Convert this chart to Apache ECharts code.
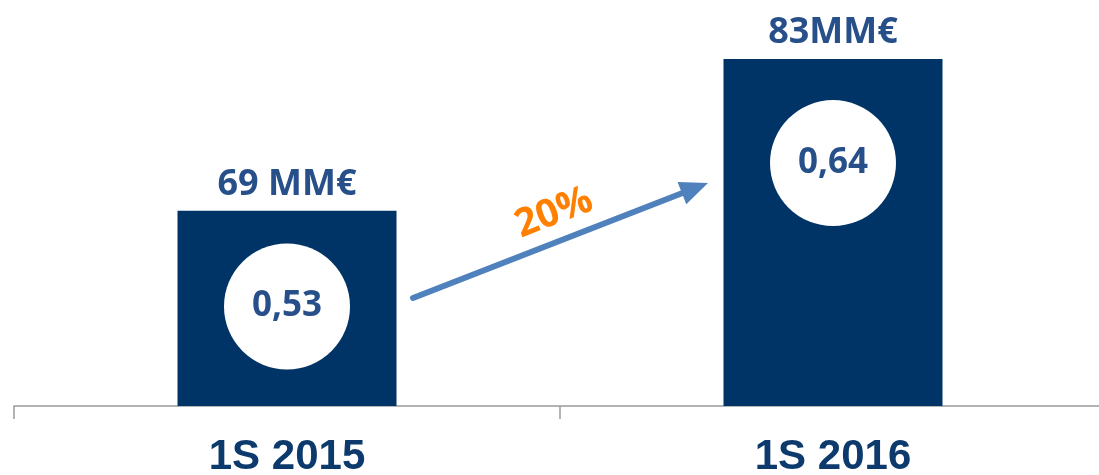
<!DOCTYPE html>
<html>
<head>
<meta charset="utf-8">
<script src="https://cdn.jsdelivr.net/npm/echarts@6/dist/echarts.min.js"></script>
<style>
html,body{margin:0;padding:0;background:#fff;}
#c{width:1099px;height:475px;}
</style>
</head>
<body>
<div id="c"></div>
<script>
// ---- data ----
const categories = ['1S 2015', '1S 2016'];
const revenue = [69, 83];
const revenueLabels = ['69 MM€', '83MM€'];
const ratioValues = ['0,53', '0,64'];
const growthLabel = '20%';

// ---- layout ----
const yMin = 51, yMax = 85;
const circleFrac = [0.51, 0.70]; // circle centre as fraction of bar height

const chart = echarts.init(document.getElementById('c'), null, {renderer: 'canvas'});
const circleData = categories.map((c, i) => ({
  value: [c, yMin + (revenue[i] - yMin) * circleFrac[i]],
  label: {formatter: ratioValues[i]}
}));

chart.setOption({
  animation: false,
  backgroundColor: '#ffffff',
  grid: {left: 14, width: 1092, top: 37.3, height: 368.7, containLabel: false, outerBoundsMode: 'none'},
  xAxis: {
    type: 'category',
    data: categories,
    boundaryGap: true,
    axisLine: {lineStyle: {color: '#9a9a9a', width: 1.5}},
    axisTick: {show: true, length: 13, alignWithLabel: false, lineStyle: {color: '#9a9a9a', width: 1.5}},
    axisLabel: {
      margin: 30,
      fontFamily: 'Liberation Sans, Arial, sans-serif',
      fontWeight: 'bold',
      fontSize: 42,
      color: '#0d3a6c'
    }
  },
  yAxis: {
    type: 'value', min: yMin, max: yMax, show: false,
    splitLine: {show: false}
  },
  series: [
    {
      type: 'bar',
      data: revenue,
      barWidth: 219,
      itemStyle: {color: '#003366'},
      label: {
        show: true,
        position: 'top',
        distance: 8,
        formatter: p => revenueLabels[p.dataIndex],
        fontFamily: 'Open Sans, sans-serif',
        fontWeight: 'bold',
        fontSize: 36,
        color: '#27508a'
      },
      z: 2
    },
    {
      type: 'scatter',
      data: circleData,
      symbol: 'circle',
      symbolSize: 126,
      itemStyle: {color: '#ffffff', opacity: 1},
      label: {
        show: true,
        position: 'inside',
        fontFamily: 'Open Sans, sans-serif',
        fontWeight: 'bold',
        fontSize: 35,
        color: '#27508a'
      },
      z: 3
    }
  ]
});

// ---- growth arrow annotation ----
const tip = [708, 183], start = [413, 298];
const dx = tip[0] - start[0], dy = tip[1] - start[1];
const L = Math.hypot(dx, dy), ux = dx / L, uy = dy / L;
const headLen = 28, headHalf = 12;
const bx = tip[0] - ux * headLen, by = tip[1] - uy * headLen;
const ang = Math.atan2(-dy, dx);
chart.setOption({
  graphic: [
    {
      type: 'line',
      shape: {x1: start[0], y1: start[1], x2: bx + ux * 2, y2: by + uy * 2},
      style: {stroke: '#4f81bd', lineWidth: 6, lineCap: 'round'},
      z: 10
    },
    {
      type: 'polygon',
      shape: {points: [tip, [bx - uy * headHalf, by + ux * headHalf], [bx + uy * headHalf, by - ux * headHalf]]},
      style: {fill: '#4f81bd'},
      z: 10
    },
    {
      type: 'text',
      x: 554, y: 213,
      rotation: ang,
      style: {
        text: growthLabel,
        fill: '#ff8000',
        font: 'bold 39px "Open Sans", sans-serif',
        align: 'center',
        verticalAlign: 'middle'
      },
      z: 10
    }
  ]
});
</script>
</body>
</html>
